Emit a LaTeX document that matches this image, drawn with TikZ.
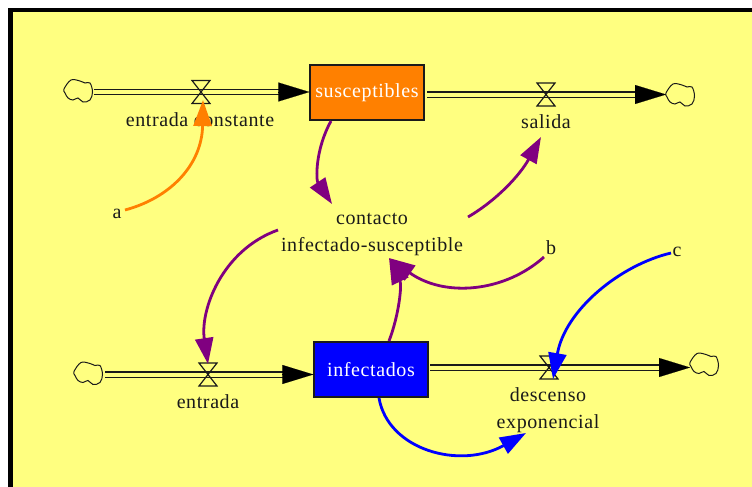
\documentclass[tikz,border=0pt]{standalone}
\usepackage{fontspec}
\setmainfont[LetterSpace=3]{Liberation Serif}
\usetikzlibrary{arrows.meta,calc}
\definecolor{panel}{HTML}{FFFF80}
\definecolor{ornge}{HTML}{FF8000}
\definecolor{purp}{HTML}{800080}
\definecolor{blu}{HTML}{0000FF}
\definecolor{ink}{HTML}{1A1A1A}
\tikzset{
  lbl/.style={inner sep=0pt,font=\fontsize{20}{27}\selectfont,align=center,text=ink},
  stock/.style={draw=ink,line width=1.3pt,minimum width=114pt,minimum height=55pt,inner sep=0pt,text=white,font=\fontsize{20}{27}\selectfont},
  anchorpt/.style={inner sep=0pt,minimum size=0pt},
  pipe/.style={draw=ink,line width=1.4pt,double=panel,double distance=4pt},
  flowtip/.style={draw=black,line width=0.1pt,-{Triangle[length=31pt,width=19pt]}},
  cloudshape/.pic={\draw[ink,line width=1pt] plot[smooth cycle,tension=0.6] coordinates {(-14,-2)(-7,-11)(2,-10)(7,-8)(12,-8)(14.5,1)(12,9)(5,11)(0,7)(-5,9)(-10,7)(-13,2)};},
  valveshape/.pic={\draw[ink,line width=1.2pt] (-9,-11.5)--(9,-11.5)--(-9,11.5)--(9,11.5)--cycle;},
  link/.style={line width=2.8pt,-{Triangle[length=26pt,width=18pt]}},
}
\begin{document}
\begin{tikzpicture}[x=1pt,y=-1pt]
\useasboundingbox (0,0) rectangle (752,487);
\fill[white] (0,0) rectangle (752,487);
\fill[black] (8,8) rectangle (752,487);
\fill[panel] (12.5,12.5) rectangle (752,487);

% stocks
\node[stock,fill=ornge] (sus) at (367,92.5) {susceptibles};
\node[stock,fill=blu] (inf) at (371,369.5) {infectados};

% clouds
\node[anchorpt] (c1) at (78,91) {};
\node[anchorpt] (c2) at (680,95) {};
\node[anchorpt] (c3) at (88,373.5) {};
\node[anchorpt] (c4) at (704,364.5) {};
\foreach \c in {c1,c2,c3,c4} \pic at (\c) {cloudshape};

% valves
\node[anchorpt] (v1) at (201,92) {};
\node[anchorpt] (v2) at (546,94.5) {};
\node[anchorpt] (v3) at (208,374.5) {};
\node[anchorpt] (v4) at (549,367.5) {};

% labels
\node[lbl] (lv1) at (200,119.5) {entrada constante};
\node[lbl] (lv2) at (546,122) {salida};
\node[lbl] (lv3) at (208,402) {entrada};
\node[lbl] (lv4) at (548,410.5) {descenso\\exponencial};
\node[lbl] (contact) at (372,234.5) {contacto\\infectado-susceptible};
\node[lbl] (a) at (117,214) {a};
\node[lbl] (b) at (551,248) {b};
\node[lbl] (c) at (677,252) {c};

% pipes
\coordinate (p1s) at (94,92);   \coordinate (p1e) at (280,92);
\coordinate (p2s) at (427,94.5);\coordinate (p2e) at (637,94.5);\coordinate (p2t) at (666,94.5);
\coordinate (p3s) at (105,374.5);\coordinate (p3e) at (285,374.5);
\coordinate (p4s) at (430,367.5);\coordinate (p4e) at (661,367.5);\coordinate (p4t) at (690,367.5);
\draw[pipe] (p1s) -- (p1e);
\draw[flowtip] (279,92) -- (sus.west |- p1e);
\draw[pipe] (p2s) -- (p2e);
\draw[flowtip] (635,94.5) -- (p2t);
\draw[pipe] (p3s) -- (p3e);
\draw[flowtip] (283,374.5) -- (inf.west |- p3e);
\draw[pipe] (p4s) -- (p4e);
\draw[flowtip] (659,367.5) -- (p4t);

\foreach \v in {v1,v2,v3,v4} \pic at (\v) {valveshape};

% information links
\draw[link,purp] ([shift={(-36,28.5)}]sus.center) .. controls (315,150) and (316,180) .. ([shift={(-40,-30.5)}]contact.center);
\draw[link,purp] ([shift={(96,-17.5)}]contact.center) .. controls (497,200) and (520,175) .. ([shift={(-5,15)}]lv2.center);
\draw[link,purp] ([shift={(-94,-4.5)}]contact.center) .. controls (222,250) and (200,310) .. ([shift={(0,-10.5)}]v3.center);
\draw[link,purp] ([shift={(-7,9)}]b.center) .. controls (505,292) and (445,298) .. ([shift={(17,23.5)}]contact.center);
\draw[link,purp] ([shift={(18,-28.5)}]inf.center) .. controls (399,315) and (402,285) .. ([shift={(17,23.5)}]contact.center);
\draw[link,ornge] ([shift={(8,-4)}]a.center) .. controls (170,198) and (202,165) .. ([shift={(2,8)}]v1.center);
\draw[link,blu] ([shift={(-6,1)}]c.center) .. controls (620,265) and (565,310) .. ([shift={(4,11.5)}]v4.center);
\draw[link,blu] ([shift={(8,28.5)}]inf.center) .. controls (388,450) and (460,470) .. ([shift={(-22,22.5)}]lv4.center);
\end{tikzpicture}
\end{document}
